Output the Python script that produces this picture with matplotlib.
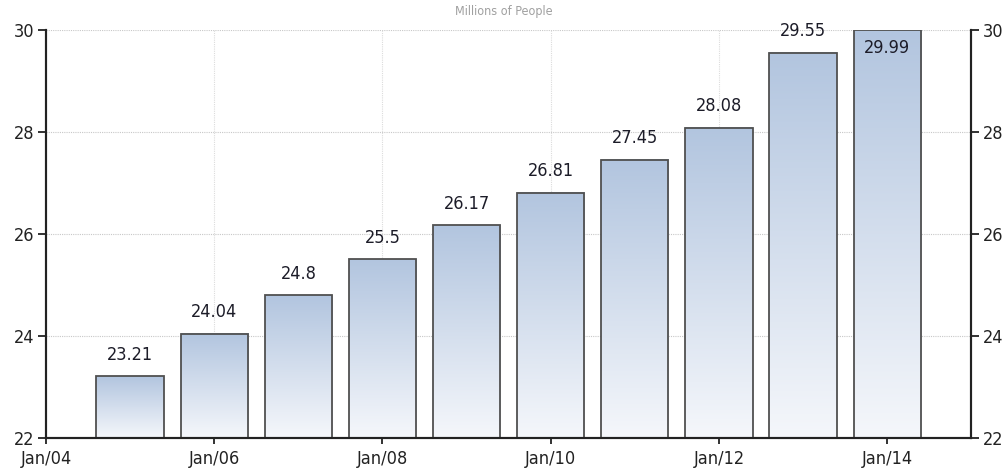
import numpy as np
import matplotlib
matplotlib.use("Agg")
import matplotlib.pyplot as plt
from matplotlib.colors import LinearSegmentedColormap
from matplotlib.patches import Rectangle

plt.rcParams["font.family"] = ["DejaVu Sans"]
plt.rcParams["font.stretch"] = "condensed"

# дані
years = [2005, 2006, 2007, 2008, 2009, 2010, 2011, 2012, 2013, 2014]
values = [23.21, 24.04, 24.8, 25.5, 26.17, 26.81, 27.45, 28.08, 29.55, 29.99]
tick_pos = [2004, 2006, 2008, 2010, 2012, 2014]
tick_labels = ["Jan/04", "Jan/06", "Jan/08", "Jan/10", "Jan/12", "Jan/14"]
y_ticks = [22, 24, 26, 28, 30]

ymin, ymax = 22, 30
bar_w = 0.8
grad = LinearSegmentedColormap.from_list("bar", ["#f5f7fb", "#b2c5df"])

fig = plt.figure(figsize=(10.08, 4.74), dpi=100)
ax = fig.add_axes([0.0456, 0.076, 0.918, 0.861])
ax.set_xlim(2004, 2015)
ax.set_ylim(ymin, ymax)

# сітка
for y in y_ticks[1:]:
    ax.axhline(y, color="#c8c8c8", lw=0.8, ls=(0, (1, 1)), zorder=0)
for x in tick_pos[1:]:
    ax.axvline(x, color="#dcdcdc", lw=0.8, ls=(0, (1, 1)), zorder=0)

# стовпці з градієнтом
g = np.linspace(0, 1, 256).reshape(-1, 1)
for x, v in zip(years, values):
    x0 = x - bar_w / 2
    ax.imshow(g, cmap=grad, origin="lower", aspect="auto",
              extent=[x0, x0 + bar_w, ymin, v], zorder=2)
    ax.add_patch(Rectangle((x0, ymin), bar_w, v - ymin, fill=False,
                           edgecolor="#505050", lw=1.3, zorder=3))
    label = f"{v:g}"
    if v > ymax - 0.2:
        ax.annotate(label, (x, v), xytext=(0, -6), textcoords="offset points",
                    ha="center", va="top", fontsize=13, color="#1c1c28",
                    zorder=4, annotation_clip=False)
    else:
        ax.annotate(label, (x, v), xytext=(0, 9), textcoords="offset points",
                    ha="center", va="bottom", fontsize=13, color="#1c1c28",
                    zorder=4, annotation_clip=False)

ax.set_xlim(2004, 2015)
ax.set_ylim(ymin, ymax)
ax.set_xticks(tick_pos)
ax.set_xticklabels(tick_labels)
ax.set_yticks(y_ticks)
ax.tick_params(axis="x", direction="out", length=4, width=1.3, labelsize=13,
               colors="#222222", pad=5)
ax.tick_params(axis="y", direction="out", length=6, width=1.3, labelsize=13,
               colors="#222222", pad=2)

ax2 = ax.twinx()
ax2.set_ylim(ymin, ymax)
ax2.set_yticks(y_ticks)
ax2.tick_params(axis="y", direction="out", length=6, width=1.3, labelsize=13,
                colors="#222222", pad=2)

for a in (ax, ax2):
    a.spines["top"].set_visible(False)
    for s in ("left", "right", "bottom"):
        a.spines[s].set_linewidth(1.5)
        a.spines[s].set_color("#222222")

fig.text(0.5, 0.975, "Millions of People", ha="center", va="center",
         fontsize=9, color="#a0a0a0")

fig.savefig("out.png", dpi=100)
